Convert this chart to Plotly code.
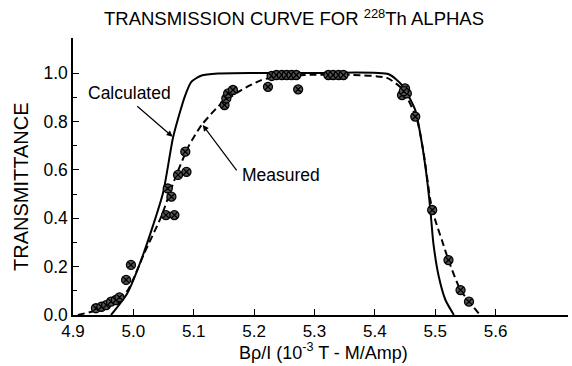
import plotly.graph_objects as go

# Calculated transmission curve (solid)
calc_x = [4.963, 4.99, 5.016, 5.049, 5.066, 5.085, 5.096, 5.113, 5.14, 5.2, 5.3, 5.423,
          5.445, 5.467, 5.478, 5.486, 5.492, 5.497, 5.506, 5.517, 5.531]
calc_y = [0.0, 0.09, 0.248, 0.503, 0.737, 0.902, 0.964, 0.99, 0.998, 1.0, 1.0, 0.995,
          0.95, 0.847, 0.709, 0.571, 0.434, 0.296, 0.158, 0.062, 0.0]

# Measured fitted curve (dashed)
meas_x = [4.908, 4.94, 4.97, 4.991, 5.018, 5.046, 5.068, 5.091, 5.113, 5.146, 5.179, 5.212,
          5.246, 5.30, 5.36, 5.42, 5.445, 5.470, 5.481, 5.492, 5.500, 5.511, 5.522, 5.542, 5.572]
meas_y = [0.0, 0.02, 0.05, 0.103, 0.255, 0.406, 0.558, 0.695, 0.785, 0.875, 0.93, 0.971,
          0.988, 0.993, 0.993, 0.98, 0.935, 0.806, 0.667, 0.475, 0.393, 0.31, 0.227, 0.103, 0.007]

# Measured data points
pts_x = [4.938, 4.947, 4.955, 4.963, 4.971, 4.977, 4.988, 4.996, 5.054, 5.068, 5.057, 5.063,
         5.074, 5.088, 5.086, 5.151, 5.154, 5.157, 5.165, 5.223, 5.229, 5.237, 5.246, 5.254,
         5.262, 5.27, 5.273, 5.323, 5.331, 5.340, 5.348, 5.445, 5.450, 5.453, 5.448, 5.467,
         5.495, 5.522, 5.542, 5.556]
pts_y = [0.028, 0.034, 0.041, 0.055, 0.062, 0.073, 0.145, 0.207, 0.413, 0.413, 0.523, 0.489,
         0.579, 0.592, 0.675, 0.868, 0.895, 0.916, 0.93, 0.943, 0.988, 0.992, 0.992, 0.992,
         0.992, 0.992, 0.933, 0.992, 0.992, 0.992, 0.992, 0.909, 0.937, 0.916, 0.925, 0.82,
         0.434, 0.227, 0.103, 0.055]

x_ticks = [4.9, 5.0, 5.1, 5.2, 5.3, 5.4, 5.5, 5.6]
x_labels = ["4.9", "5.0", "5.1", "5.2", "5.3", "5.4", "5.5", "5.6"]
y_ticks = [0.0, 0.2, 0.4, 0.6, 0.8, 1.0]
y_labels = ["0.0", "0.2", "0.4", "0.6", "0.8", "1.0"]
y_minor = [0.1, 0.3, 0.5, 0.7, 0.9]

FONT = "Arial, Liberation Sans, sans-serif"

fig = go.Figure()
fig.add_trace(go.Scatter(x=calc_x, y=calc_y, mode="lines",
                         line=dict(color="black", width=2, shape="spline", smoothing=0.6),
                         showlegend=False, hoverinfo="skip"))
fig.add_trace(go.Scatter(x=meas_x, y=meas_y, mode="lines",
                         line=dict(color="black", width=2, dash="7px,4px", shape="spline", smoothing=0.6),
                         showlegend=False, hoverinfo="skip"))
fig.add_trace(go.Scatter(x=pts_x, y=pts_y, mode="markers",
                         marker=dict(symbol="circle-x", size=9, color="#555555",
                                     line=dict(color="black", width=1.3)),
                         showlegend=False))

fig.update_layout(
    width=572, height=366,
    margin=dict(l=73, r=4, t=38, b=51),
    paper_bgcolor="white", plot_bgcolor="white",
    font=dict(family=FONT, color="black", size=17),
    title=dict(text="TRANSMISSION CURVE FOR <sup>228</sup>Th ALPHAS", x=294/572, xanchor="center",
               y=1 - 19/366, yanchor="middle", font=dict(size=18.5, family=FONT, color="black")),
    xaxis=dict(range=[4.9, 5.72], tickmode="array", tickvals=x_ticks, ticktext=x_labels,
               ticks="inside", ticklen=6, tickwidth=1.3, tickcolor="black",
               showline=True, linecolor="black", linewidth=1.5, showgrid=False, zeroline=False,
               tickfont=dict(size=17)),
    yaxis=dict(range=[0, 1.145], tickmode="array", tickvals=y_ticks, ticktext=y_labels,
               ticks="inside", ticklen=6, tickwidth=1.3, tickcolor="black",
               minor=dict(tickvals=y_minor, ticks="inside", ticklen=4, tickcolor="black", tickwidth=1.2),
               showline=True, linecolor="black", linewidth=1.5, showgrid=False, zeroline=False,
               tickfont=dict(size=17.5)),
)

fig.add_annotation(text="TRANSMITTANCE", textangle=-90, xref="paper", yref="paper",
                   x=(21 - 73) / 495, y=(315 - 187) / 277, xanchor="center", yanchor="middle",
                   showarrow=False, font=dict(size=20))
fig.add_annotation(text="Bρ/I (10<sup>-3</sup> T - M/Amp)", xref="paper", yref="paper",
                   x=(323 - 73) / 495, y=(315 - 366) / 277, xanchor="center", yanchor="bottom",
                   showarrow=False, font=dict(size=18), yshift=1)

fig.add_annotation(text="Calculated", x=4.994, y=0.919, xref="x", yref="y", showarrow=False,
                   font=dict(size=17.5))
fig.add_annotation(text="Measured", x=5.245, y=0.579, xref="x", yref="y", showarrow=False,
                   font=dict(size=17.5))
fig.add_annotation(text="", x=5.065, y=0.737, ax=5.004, ay=0.868, axref="x", ayref="y",
                   xref="x", yref="y", showarrow=True, arrowhead=2, arrowsize=1, arrowwidth=1.2,
                   arrowcolor="black")
fig.add_annotation(text="", x=5.115, y=0.785, ax=5.173, ay=0.592, axref="x", ayref="y",
                   xref="x", yref="y", showarrow=True, arrowhead=2, arrowsize=1, arrowwidth=1.2,
                   arrowcolor="black")

fig.write_html("out.html")
